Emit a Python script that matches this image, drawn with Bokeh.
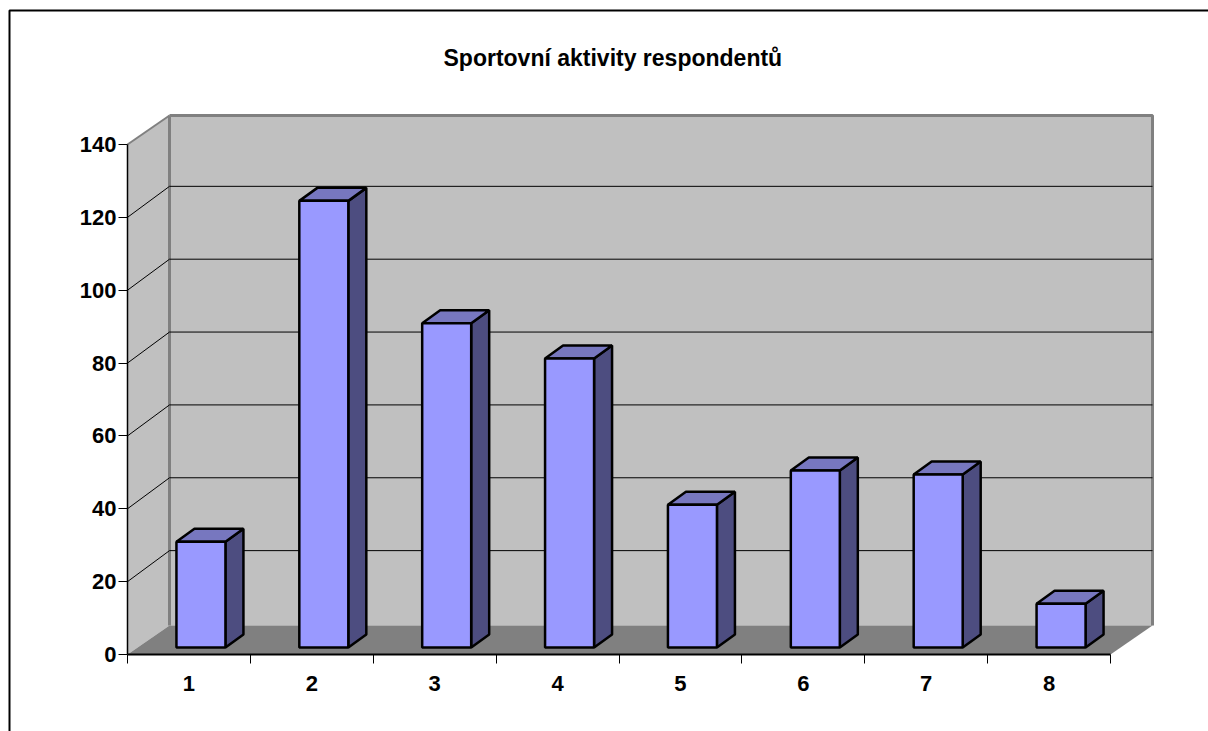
from bokeh.embed import file_html
from bokeh.models import FixedTicker, Label, Range1d
from bokeh.plotting import figure
from bokeh.resources import INLINE

# Chart content
title_text = "Sportovní aktivity respondentů"
categories = [1, 2, 3, 4, 5, 6, 7, 8]
values = [29, 122.6, 89, 79.3, 39.2, 48.6, 47.5, 12]
y_ticks = [0, 20, 40, 60, 80, 100, 120, 140]
x_edges = [0.5, 1.5, 2.5, 3.5, 4.5, 5.5, 6.5, 7.5, 8.5]

# Page size, position of the axes on the page, and the scale of each axis
WIDTH, HEIGHT = 1208, 731
AXIS_X, AXIS_Y = 127, 654
PX_X = 122.875   # pixels per category
PX_Y = 3.643     # pixels per value unit


def ux(px):
    return px / PX_X


def uy(px):
    return px / PX_Y


def page_x(px):
    return 0.5 + ux(px - AXIS_X)


def page_y(py):
    return uy(AXIS_Y - py)


x0 = 0.5

# Oblique depth of the box and of the columns standing inside it
wall_dx, wall_dy = ux(42), uy(29)
grid_dy = uy(31)
bar_shift, bar_base = ux(12), uy(7)
bar_width = ux(49)
bar_dx, bar_dy = ux(18), uy(13)

WALL = "#C0C0C0"
FLOOR = "#808080"
FRONT = "#9999FF"
SIDE = "#4D4D80"
CAP = "#7777BF"
LABEL_FONT = "Liberation Sans"
BAR_EDGE = 2.5

p = figure(
    width=WIDTH, height=HEIGHT, output_backend="svg", toolbar_location=None,
    x_range=Range1d(page_x(0), page_x(WIDTH)), y_range=Range1d(page_y(HEIGHT), page_y(0)),
    min_border=0, background_fill_color="white", border_fill_color="white",
    outline_line_color=None,
)
p.grid.visible = False

# Outer chart border, running off the right and bottom of the page
p.line([page_x(9), page_x(9), page_x(WIDTH + 5)], [page_y(HEIGHT + 5), page_y(10), page_y(10)],
       line_color="black", line_width=2)

# Title
p.add_layout(Label(
    x=page_x(443), y=page_y(57), text=title_text, text_align="left", text_baseline="middle",
    text_font=LABEL_FONT, text_font_size="23px", text_font_style="bold", text_color="black",
))

# Back wall, side wall and floor of the 3D box
top_value = 140
back_l, back_r = x0 + wall_dx, page_x(1152)
p.patch([x0, back_l, back_l, x0], [0, wall_dy, top_value + wall_dy, top_value],
        fill_color=WALL, line_color=None)
p.quad(left=back_l, right=back_r, bottom=wall_dy, top=top_value + wall_dy,
       fill_color=WALL, line_color=None)
p.line([back_l, back_l], [wall_dy, top_value + wall_dy], line_color=FLOOR, line_width=3)
p.line([back_l, back_r, back_r], [top_value + wall_dy] * 2 + [wall_dy], line_color=FLOOR, line_width=3)
p.line([x0, back_l], [top_value, top_value + wall_dy], line_color=FLOOR, line_width=2)
p.patch([x0, back_l, back_r, back_r - wall_dx], [0, wall_dy, wall_dy, 0],
        fill_color=FLOOR, line_color=None)

# Gridlines run across the back wall and diagonally down the side wall
grid_values = [v for v in y_ticks if 0 < v < top_value]
p.segment(x0=back_l, x1=back_r, y0=[v + grid_dy for v in grid_values],
          y1=[v + grid_dy for v in grid_values], line_color="black", line_width=1)
p.segment(x0=x0, x1=back_l, y0=grid_values, y1=[v + grid_dy for v in grid_values],
          line_color="black", line_width=1)

# Columns: side face, cap, then front face
for c, v in zip(categories, values):
    l = c + bar_shift - bar_width / 2
    r = l + bar_width
    bottom, top = bar_base, bar_base + v
    p.patch([r, r + bar_dx, r + bar_dx, r], [bottom, bottom + bar_dy, top + bar_dy, top],
            fill_color=SIDE, line_color="black", line_width=BAR_EDGE)
    p.patch([l, l + bar_dx, r + bar_dx, r], [top, top + bar_dy, top + bar_dy, top],
            fill_color=CAP, line_color="black", line_width=BAR_EDGE)
    p.quad(left=l, right=r, bottom=bottom, top=top,
           fill_color=FRONT, line_color="black", line_width=BAR_EDGE)

# Axes, pinned at the corner of the box rather than at the edges of the page
yaxis = p.yaxis[0]
yaxis.fixed_location = x0
yaxis.bounds = (0, top_value)
yaxis.ticker = FixedTicker(ticks=y_ticks)
yaxis.minor_tick_line_color = None
yaxis.major_tick_in = 0
yaxis.major_tick_out = 9
yaxis.major_tick_line_width = 1
yaxis.major_tick_line_color = "black"
yaxis.axis_line_color = "black"
yaxis.axis_line_width = 1.5
yaxis.major_label_standoff = 2

xaxis = p.xaxis[0]
xaxis.fixed_location = 0
xaxis.bounds = (x_edges[0], x_edges[-1])
xaxis.ticker = FixedTicker(ticks=categories, minor_ticks=x_edges)
xaxis.major_tick_line_color = None
xaxis.minor_tick_line_color = "black"
xaxis.minor_tick_line_width = 1
xaxis.minor_tick_in = 0
xaxis.minor_tick_out = 9
xaxis.axis_line_color = "black"
xaxis.axis_line_width = 2
xaxis.major_label_standoff = 12

for axis in (xaxis, yaxis):
    axis.major_label_text_font = LABEL_FONT
    axis.major_label_text_font_size = "22px"
    axis.major_label_text_font_style = "bold"
    axis.major_label_text_color = "black"

open("out.html", "w").write(file_html(p, INLINE))
